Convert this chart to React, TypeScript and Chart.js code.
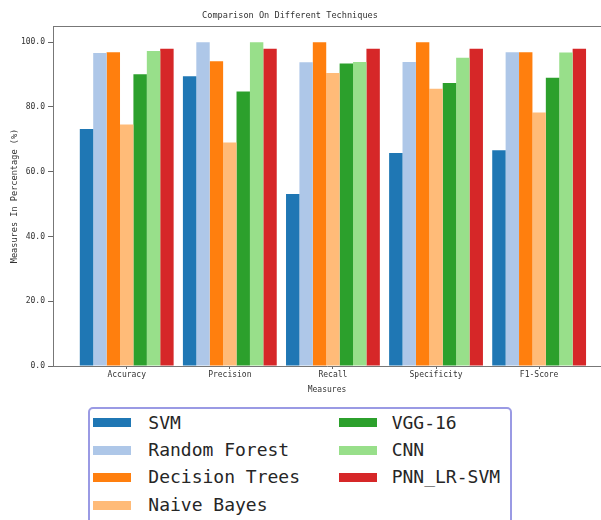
import React, { useEffect, useRef } from "react";
import { Chart, registerables } from "chart.js";

Chart.register(...registerables);

const categories = ["Accuracy", "Precision", "Recall", "Specificity", "F1-Score"];
const methods = ["SVM", "Random Forest", "Decision Trees", "Naive Bayes", "VGG-16", "CNN", "PNN_LR-SVM"];
const colors = ["#1f77b4", "#aec7e8", "#ff7f0e", "#ffbb78", "#2ca02c", "#98df8a", "#d62728"];

const svm = [73.2, 89.5, 53.1, 65.8, 66.6];
const randomForest = [96.7, 100, 93.8, 93.9, 96.9];
const decisionTrees = [96.9, 94.1, 100, 100, 96.9];
const naiveBayes = [74.6, 69.0, 90.5, 85.6, 78.3];
const vgg16 = [90.1, 84.8, 93.4, 87.4, 89.0];
const cnn = [97.3, 100, 93.9, 95.2, 96.8];
const pnnLrSvm = [98.0, 98.0, 98.0, 98.0, 98.0];

const seriesValues = [svm, randomForest, decisionTrees, naiveBayes, vgg16, cnn, pnnLrSvm];
const yTicks = [0, 20, 40, 60, 80, 100];

const chartTitle = "Comparison On Different Techniques";
const xTitle = "Measures";
const yTitle = "Measures In Percentage (%)";

const MONO = "'DejaVu Sans Mono', monospace";

const topSpine = {
  id: "topSpine",
  afterDraw(chart: any) {
    const { ctx, chartArea } = chart;
    ctx.save();
    ctx.strokeStyle = "#777";
    ctx.lineWidth = 1;
    ctx.beginPath();
    ctx.moveTo(chartArea.left, Math.round(chartArea.top) + 0.5);
    ctx.lineTo(chartArea.right, Math.round(chartArea.top) + 0.5);
    ctx.stroke();
    ctx.restore();
  },
};

export default function App() {
  const canvasRef = useRef<HTMLCanvasElement | null>(null);

  useEffect(() => {
    document.body.style.margin = "0";
    const canvas = canvasRef.current;
    if (!canvas) return;
    const chart = new Chart(canvas, {
      type: "bar",
      data: {
        datasets: methods.map((m, k) => ({
          label: m,
          data: categories.map((_, i) => ({ x: i, y: seriesValues[k][i] })),
          backgroundColor: colors[k],
          borderWidth: 0,
          categoryPercentage: 0.91,
          barPercentage: 1.0,
        })),
      },
      options: {
        responsive: false,
        maintainAspectRatio: false,
        animation: false,
        devicePixelRatio: 1,
        layout: { padding: { top: 26, left: 0, right: 0, bottom: 124 } },
        plugins: {
          legend: { display: false },
          title: { display: false },
          tooltip: { enabled: false },
        },
        scales: {
          x: {
            type: "linear",
            offset: false,
            bounds: "data",
            min: -0.715,
            max: 4.6,
            afterBuildTicks: (scale: any) => {
              scale.ticks = categories.map((_, i) => ({ value: i }));
            },
            afterFit: (scale: any) => {
              scale.height = 30;
            },
            ticks: {
              autoSkip: false,
              maxRotation: 0,
              padding: 1,
              color: "#333",
              font: { family: MONO, size: 8 },
              callback: (v: any) => categories[v as number] ?? "",
            },
            grid: { offset: false, drawOnChartArea: false, drawTicks: true, tickLength: 3, color: "#666" },
            border: { display: true, color: "#777", width: 1 },
            title: {
              display: true,
              text: xTitle,
              color: "#333",
              font: { family: MONO, size: 8 },
              padding: { top: 0, bottom: 1 },
            },
          },
          y: {
            min: 0,
            max: 105,
            afterBuildTicks: (scale: any) => {
              scale.ticks = yTicks.map((v) => ({ value: v }));
            },
            afterFit: (scale: any) => {
              scale.width = 53;
            },
            ticks: {
              padding: 3,
              color: "#333",
              font: { family: MONO, size: 8 },
              callback: (v: any) => Number(v).toFixed(1),
            },
            grid: { drawOnChartArea: false, drawTicks: true, tickLength: 5, color: "#666" },
            border: { display: true, color: "#777", width: 1 },
            title: {
              display: true,
              text: yTitle,
              color: "#333",
              font: { family: MONO, size: 8.6 },
              padding: { top: 10, bottom: 0 },
            },
          },
        },
      },
      plugins: [topSpine],
    } as any);
    return () => chart.destroy();
  }, []);

  const rowCenters = [13.7, 41, 68.3, 96];
  const colSwatch = [3.3, 249.3];
  const colText = [58.3, 301.7];

  return (
    <div style={{ position: "relative", width: 601, height: 520, overflow: "hidden", background: "#fff" }}>
      <style>{`body{margin:0;}`}</style>
      <canvas ref={canvasRef} width={601} height={520} style={{ position: "absolute", left: 0, top: 0 }} />
      <div
        style={{
          position: "absolute",
          left: 0,
          top: 10,
          width: 580,
          textAlign: "center",
          fontFamily: MONO,
          fontSize: 8.6,
          lineHeight: "11px",
          color: "#333",
        }}
      >
        {chartTitle}
      </div>
      <div
        style={{
          position: "absolute",
          left: 88,
          top: 407,
          width: 420,
          height: 130,
          border: "2px solid #9a9ae4",
          borderRadius: 5,
          background: "#fff",
          boxSizing: "content-box",
        }}
      >
        {methods.map((m, k) => {
          const col = k < 4 ? 0 : 1;
          const row = k < 4 ? k : k - 4;
          return (
            <React.Fragment key={m}>
              <div
                style={{
                  position: "absolute",
                  left: colSwatch[col],
                  top: rowCenters[row] - 4.5,
                  width: 38,
                  height: 9,
                  background: colors[k],
                }}
              />
              <div
                style={{
                  position: "absolute",
                  left: colText[col],
                  top: rowCenters[row] - 12,
                  height: 24,
                  lineHeight: "24px",
                  fontFamily: MONO,
                  fontSize: 18,
                  color: "#262626",
                  whiteSpace: "nowrap",
                }}
              >
                {m}
              </div>
            </React.Fragment>
          );
        })}
      </div>
    </div>
  );
}
